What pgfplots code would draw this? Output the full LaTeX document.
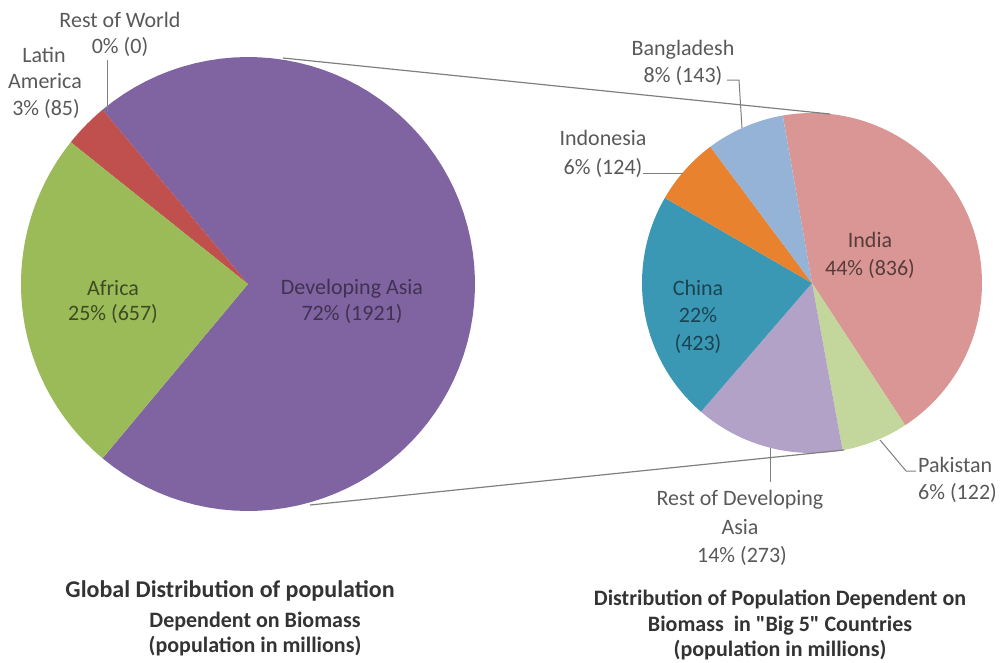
\documentclass[border=0pt]{standalone}
\usepackage{pgfplots}
\pgfplotsset{compat=1.18}
\usepackage{fontspec}
\setmainfont{Carlito}
\newfontfamily\qfont{Carlito}
\definecolor{cAsia}{HTML}{8064A2}
\definecolor{cAfrica}{HTML}{9BBB59}
\definecolor{cLatin}{HTML}{C0504D}
\definecolor{cIndia}{HTML}{D99694}
\definecolor{cPak}{HTML}{C3D69B}
\definecolor{cRest}{HTML}{B3A2C7}
\definecolor{cChina}{HTML}{3A98B5}
\definecolor{cIndo}{HTML}{E8822E}
\definecolor{cBang}{HTML}{95B3D7}
\definecolor{lblgray}{HTML}{595959}
\definecolor{linegray}{HTML}{7F7F7F}
% data (population in millions)
\def\vAsia{1921}\def\vAfrica{657}\def\vLatin{85}\def\vRow{0}
\def\vIndia{836}\def\vPak{122}\def\vRest{273}\def\vChina{423}\def\vIndo{124}\def\vBang{143}
\newcommand{\wedgeplot}[6]{%
  \addplot[fill=#1, draw=none, domain=#5:#6, samples=80, variable=\t]
    ({#2+#4*cos(t)},{#3-#4*sin(t)}) -- (axis cs:#2,#3) -- cycle;}
\newcommand{\lbl}[4][lblgray]{\node[anchor=base, text=#1, font=\fontsize{22}{26}\selectfont, inner sep=0pt] at (axis cs:#2,#3) {#4};}
\newcommand{\ttl}[4][22]{\node[anchor=base, text=black!80, font=\fontsize{#1}{26}\selectfont\bfseries, inner sep=0pt] at (axis cs:#2,#3) {#4};}
\newcommand{\sq}{{\qfont\bfseries"}}
% angles of the wedges
\pgfmathsetmacro\totL{\vAsia+\vAfrica+\vLatin+\vRow}
\pgfmathsetmacro\aOne{180*(\vAsia/\totL)}
\pgfmathsetmacro\aTwo{\aOne+360*(\vRow/\totL)}
\pgfmathsetmacro\aThree{\aTwo+360*(\vLatin/\totL)}
\pgfmathsetmacro\aFour{\aThree+360*(\vAfrica/\totL)}
\pgfmathsetmacro\aNeg{-\aOne}
\pgfmathsetmacro\totR{\vIndia+\vPak+\vRest+\vChina+\vIndo+\vBang}
\pgfmathsetmacro\bZero{99.9}
\pgfmathsetmacro\bOne{\bZero-360*(\vIndia/\totR)}
\pgfmathsetmacro\bTwo{\bOne-360*(\vPak/\totR)}
\pgfmathsetmacro\bThree{\bTwo-360*(\vRest/\totR)}
\pgfmathsetmacro\bFour{\bThree-360*(\vChina/\totR)}
\pgfmathsetmacro\bFive{\bFour-360*(\vIndo/\totR)}
\pgfmathsetmacro\bSix{\bFive-360*(\vBang/\totR)}
\begin{document}
\begin{tikzpicture}
\useasboundingbox (0,0) rectangle (1002pt,662pt);
\clip (0,0) rectangle (1002pt,662pt);
\begin{axis}[at={(0,0)}, anchor=south west, width=1002pt, height=662pt,
  scale only axis, hide axis, xmin=0, xmax=1002, ymin=0, ymax=662,
  y dir=reverse, clip=false]
% ---- left pie
\wedgeplot{cAsia}{248}{284}{227}{\aNeg}{\aOne}
\wedgeplot{cLatin}{248}{284}{227}{\aTwo}{\aThree}
\wedgeplot{cAfrica}{248}{284}{227}{\aThree}{\aFour}
% ---- right pie
\wedgeplot{cIndia}{812}{283}{170}{\bOne}{\bZero}
\wedgeplot{cPak}{812}{283}{170}{\bTwo}{\bOne}
\wedgeplot{cRest}{812}{283}{170}{\bThree}{\bTwo}
\wedgeplot{cChina}{812}{283}{170}{\bFour}{\bThree}
\wedgeplot{cIndo}{812}{283}{170}{\bFive}{\bFour}
\wedgeplot{cBang}{812}{283}{170}{\bSix}{\bFive}
% ---- connector lines
\addplot[linegray, line width=1.2pt] coordinates {(283,58) (830,114)};
\addplot[linegray, line width=1.2pt] coordinates {(310,505) (844,450)};
% ---- leader lines
\addplot[linegray, line width=1pt] coordinates {(107,60) (107,112)};
\addplot[linegray, line width=1pt] coordinates {(727,80) (739,80) (742,128)};
\addplot[linegray, line width=1pt] coordinates {(643,173) (683,173)};
\addplot[linegray, line width=1pt] coordinates {(770,448) (770,482)};
\addplot[linegray, line width=1pt] coordinates {(880,440) (906,471) (916,471)};
% ---- labels
\lbl{120}{27}{Rest of World}
\lbl{120}{53}{0\% (0)}
\lbl{44}{62}{Latin}
\lbl{45}{88}{America}
\lbl{46}{115}{3\% (85)}
\lbl[cAfrica!40!black]{113}{295}{Africa}
\lbl[cAfrica!40!black]{113}{320}{25\% (657)}
\lbl[cAsia!50!black]{352}{294}{Developing Asia}
\lbl[cAsia!50!black]{352}{320}{72\% (1921)}
\lbl{683}{55}{Bangladesh}
\lbl{683}{82}{8\% (143)}
\lbl{603}{145}{Indonesia}
\lbl{603}{174}{6\% (124)}
\lbl[cIndia!40!black]{870}{247}{India}
\lbl[cIndia!40!black]{870}{275}{44\% (836)}
\lbl[cChina!45!black]{698}{295}{China}
\lbl[cChina!45!black]{698}{322}{22\%}
\lbl[cChina!45!black]{698}{350}{(423)}
\lbl{740}{505}{Rest of Developing}
\lbl{740}{534}{Asia}
\lbl{742}{562}{14\% (273)}
\node[anchor=base west, text=lblgray, font=\fontsize{22}{26}\selectfont, inner sep=0pt] at (axis cs:918,472) {Pakistan};
\node[anchor=base west, text=lblgray, font=\fontsize{22}{26}\selectfont, inner sep=0pt] at (axis cs:918,499) {6\% (122)};
% ---- titles
\ttl[24]{230}{597}{Global Distribution of population}
\ttl{255}{627}{Dependent on Biomass}
\ttl{255}{652}{(population in millions)}
\ttl{780}{605}{Distribution of Population Dependent on}
\ttl{780}{631}{Biomass\ \ in \sq Big 5\sq\ Countries}
\ttl{780}{656}{(population in millions)}
\end{axis}
\end{tikzpicture}
\end{document}
